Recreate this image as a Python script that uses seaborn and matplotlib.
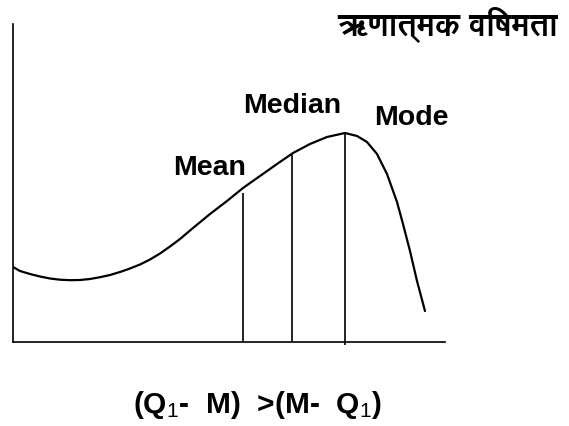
import matplotlib
matplotlib.use("Agg")
import matplotlib.pyplot as plt
from matplotlib import font_manager
from matplotlib.ft2font import FT2Font
import seaborn as sns
import pandas as pd

# ---- data ----
curve_x = [0, 7, 17, 27, 37, 47, 57, 67, 77, 87, 97, 107, 117, 127, 137, 147, 157, 167,
           180, 197, 214, 230, 247, 264, 280, 297, 314, 332, 344, 354, 364, 374, 384,
           390, 397, 404, 412]
curve_y = [75, 71, 68, 65.5, 63.5, 62.3, 61.8, 62, 63, 64.8, 67, 70, 73.5, 77.5, 82.5, 88.5, 95.5, 103,
           114, 128, 141, 154, 166, 178, 189, 198, 205, 209, 206, 200, 188, 168, 140,
           118, 91, 61, 31]

marker_names = ["Mean", "Median", "Mode"]
marker_x = [230, 279, 332]
marker_top = [149, 189, 210]
marker_bottom = [0, 0, -3]

title_text = "ऋणात्मक विषमता"
formula_text = r"(Q$_1$-  M)  >(M-  Q$_1$)"

# ---- fonts ----
sns.set_theme(style="white")


def find_font(codepoint):
    seen = set()
    found = []
    for f in font_manager.fontManager.ttflist:
        if f.fname in seen:
            continue
        seen.add(f.fname)
        try:
            if codepoint in FT2Font(f.fname).get_charmap():
                found.append(f)
        except Exception:
            pass
    if not found:
        return None, "normal"
    bold = [f for f in found if isinstance(f.weight, int) and f.weight >= 600
            or f.weight in ("bold", "heavy", "black", "semibold", "demibold")]
    if bold:
        return bold[0].name, "bold"
    return found[0].name, "bold"


deva, deva_weight = find_font(0x090B)
plt.rcParams["font.family"] = ["Liberation Sans", "DejaVu Sans"]
plt.rcParams["mathtext.fontset"] = "custom"
plt.rcParams["mathtext.rm"] = "Liberation Sans"
plt.rcParams["mathtext.it"] = "Liberation Sans:italic"
plt.rcParams["mathtext.bf"] = "Liberation Sans:bold"

fig = plt.figure(figsize=(5.69, 4.27), dpi=100)
ax = fig.add_axes([13 / 569, 84 / 427, 432 / 569, 318 / 427])

df = pd.DataFrame({"x": curve_x, "y": curve_y})
sns.lineplot(data=df, x="x", y="y", ax=ax, color="black", lw=1.6, sort=False)

for name, xv, top, bot in zip(marker_names, marker_x, marker_top, marker_bottom):
    ax.vlines(xv, bot, top, color="black", lw=1.2, clip_on=False)

ax.set_xlim(0, 432)
ax.set_ylim(0, 318)
ax.set_xticks([])
ax.set_yticks([])
ax.set_xlabel("")
ax.set_ylabel("")
for s in ["top", "right"]:
    ax.spines[s].set_visible(False)
for s in ["left", "bottom"]:
    ax.spines[s].set_color("black")
    ax.spines[s].set_linewidth(1.2)

label_pos = {"Mean": (160, 168), "Median": (230, 230), "Mode": (361, 218)}
for name in marker_names:
    lx, ly = label_pos[name]
    ax.text(lx, ly, name, fontsize=20.5, fontweight="bold", ha="left", va="baseline",
            color="black", clip_on=False)

tfam = [deva, "DejaVu Sans"] if deva else ["DejaVu Sans"]
fig.text(558 / 569, (427 - 34) / 427, title_text, family=tfam, fontsize=23,
         fontweight=deva_weight, ha="right", va="baseline", color="black")

fig.text(133 / 569, (427 - 413) / 427, formula_text, fontsize=21.5, fontweight="bold",
         ha="left", va="baseline", color="black")

fig.savefig("out.png", dpi=100, facecolor="white")
